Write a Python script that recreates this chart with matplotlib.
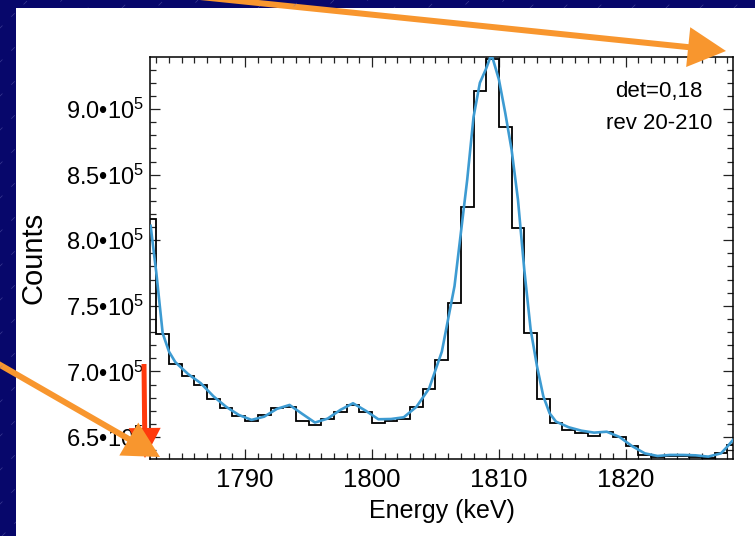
import numpy as np
import matplotlib
matplotlib.use("Agg")
import matplotlib.pyplot as plt
from matplotlib.patches import FancyArrow, Rectangle
from matplotlib.ticker import MultipleLocator, FuncFormatter

plt.rcParams['font.family'] = ['Liberation Sans', 'DejaVu Sans']
plt.rcParams['mathtext.fontset'] = 'custom'
plt.rcParams['mathtext.rm'] = 'Liberation Sans'
plt.rcParams['mathtext.default'] = 'regular'

#%% data (counts in units of 1e5)
bin_edges = np.arange(1782, 1830)
hist_counts = [8.164, 7.286, 7.057, 6.966, 6.897, 6.790, 6.720, 6.660, 6.620, 6.670,
               6.720, 6.730, 6.620, 6.590, 6.640, 6.690, 6.740, 6.690, 6.610, 6.620,
               6.640, 6.725, 6.866, 7.090, 7.520, 8.250, 9.136, 9.385, 8.864, 8.090,
               7.296, 6.790, 6.610, 6.553, 6.533, 6.508, 6.536, 6.502, 6.434, 6.363,
               6.345, 6.355, 6.355, 6.350, 6.342, 6.376, 6.440]

fit_energy = [1782.55, 1783.0, 1783.5, 1784.0, 1784.5, 1785.5, 1786.5, 1787.5, 1788.5,
              1789.5, 1790.5, 1791.5, 1792.5, 1793.5, 1794.5, 1795.5, 1796.5, 1797.5,
              1798.5, 1799.5, 1800.5, 1801.5, 1802.5, 1803.5, 1804.5, 1805.5, 1806.5,
              1807.5, 1808.0, 1808.5, 1809.0, 1809.3, 1809.5, 1810.0, 1810.5, 1811.0,
              1811.5, 1812.0, 1812.5, 1813.0, 1813.5, 1814.0, 1814.5, 1815.5, 1816.5,
              1817.5, 1818.5, 1819.5, 1820.5, 1821.5, 1822.5, 1823.5, 1824.5, 1825.5,
              1826.5, 1827.5, 1828.0, 1828.45]
fit_counts = [8.11, 7.75, 7.29, 7.15, 7.07, 6.98, 6.91, 6.81, 6.73,
              6.668, 6.63, 6.655, 6.714, 6.744, 6.676, 6.61, 6.64, 6.706,
              6.757, 6.70, 6.635, 6.637, 6.65, 6.73, 6.87, 7.15, 7.65,
              8.46, 8.94, 9.20, 9.31, 9.39, 9.39, 9.225, 8.97, 8.69,
              8.31, 7.775, 7.32, 7.04, 6.81, 6.68, 6.617, 6.574, 6.548,
              6.533, 6.54, 6.50, 6.43, 6.375, 6.355, 6.363, 6.363, 6.36,
              6.35, 6.375, 6.426, 6.477]

x_range = (1782.5, 1828.45)
y_range = (6.332e5, 9.397e5)
annot_lines = ["det=0,18", "rev 20-210"]

#%% figure
W, H = 755, 536
fig = plt.figure(figsize=(W / 100, H / 100), dpi=100, facecolor='white')
ax = fig.add_axes([150 / W, 1 - 459 / H, 583 / W, 402 / H])

ax.stairs(np.array(hist_counts) * 1e5, bin_edges, baseline=None,
          color='black', lw=1.3, zorder=2)
ax.plot(fit_energy, np.array(fit_counts) * 1e5, color='#3d9bd2', lw=1.9, zorder=3)

ax.set_xlim(*x_range)
ax.set_ylim(*y_range)
ax.xaxis.set_major_locator(MultipleLocator(10))
ax.xaxis.set_minor_locator(MultipleLocator(1))
ax.yaxis.set_major_locator(MultipleLocator(0.5e5))
ax.yaxis.set_minor_locator(MultipleLocator(0.1e5))
ax.yaxis.set_major_formatter(FuncFormatter(lambda v, p: f"{v / 1e5:.1f}\u2022$10^5$"))

ax.tick_params(which='both', direction='in', top=True, right=True, width=0.9, color='#222222')
ax.tick_params(which='major', length=7.5)
ax.tick_params(which='minor', length=4)
ax.tick_params(axis='x', labelsize=18.5, pad=6.5)
ax.tick_params(axis='y', labelsize=17, pad=4.5)
for s in ax.spines.values():
    s.set_linewidth(1.1)

ax.set_xlabel("Energy (keV)", fontsize=18, labelpad=5)
ax.set_ylabel("Counts", fontsize=21, labelpad=13)

# text placed in display pixels (origin bottom-left)
ax.text(659, H - 96.7, annot_lines[0], transform=None, fontsize=16, ha='center', va='baseline')
ax.text(659, H - 129, annot_lines[1], transform=None, fontsize=16, ha='center', va='baseline')

#%% overlay: slide background strips and arrows (image pixel coords)
ov = fig.add_axes([0, 0, 1, 1], zorder=10)
ov.set_xlim(0, W)
ov.set_ylim(H, 0)
ov.axis('off')
ov.patch.set_alpha(0)

navy = '#07076b'
strips = [Rectangle((0, 0), 16, H, color=navy, lw=0),
          Rectangle((0, 0), W, 8, color=navy, lw=0)]
for r in strips:
    ov.add_patch(r)
    for c in range(-40, W + H, 34):
        ln, = ov.plot([c - H, c], [H, 0], color='#6f6fb8', lw=0.5, alpha=0.5,
                      dashes=(7, 18))
        ln.set_clip_path(r)

ov.add_patch(FancyArrow(144, 364, 1, 94, width=5, head_width=32, head_length=30,
                        length_includes_head=True, color='#ff3a0c', lw=0))
ov.add_patch(FancyArrow(200, -3, 526, 54, width=6, head_width=40, head_length=38,
                        length_includes_head=True, color='#f8962e', lw=0))
ov.add_patch(FancyArrow(-5, 362, 165, 95, width=6, head_width=38, head_length=36,
                        length_includes_head=True, color='#f8962e', lw=0))

fig.savefig("out.png", dpi=100, facecolor=fig.get_facecolor())
